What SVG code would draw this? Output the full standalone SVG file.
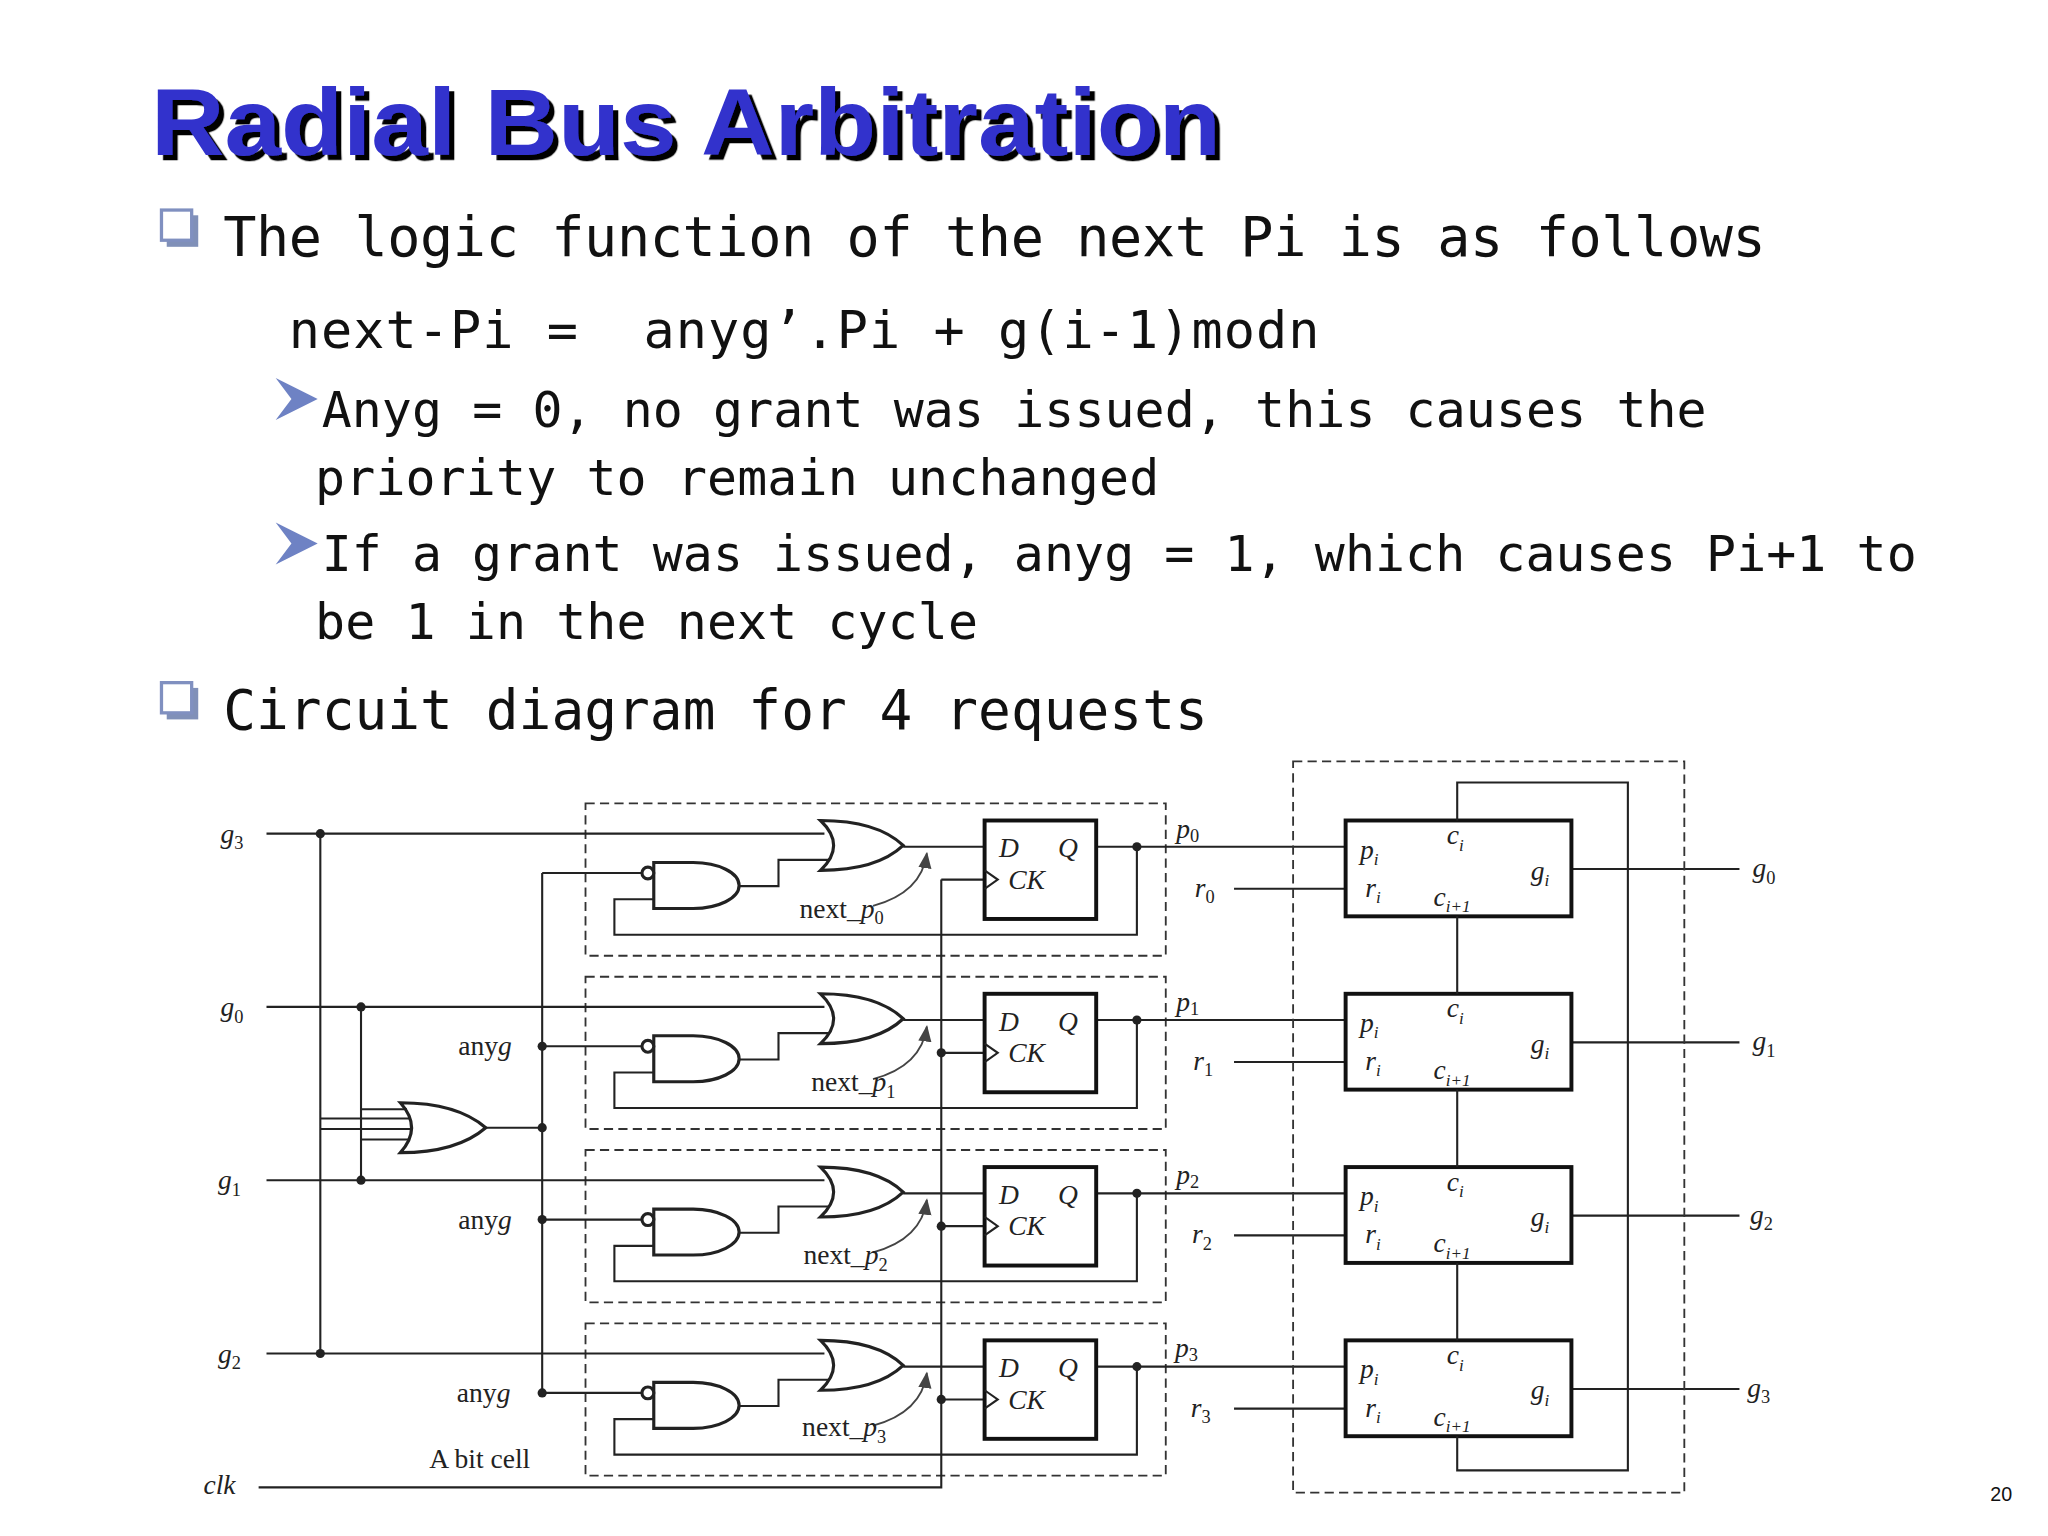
<svg xmlns="http://www.w3.org/2000/svg" xmlns:xlink="http://www.w3.org/1999/xlink" width="2048" height="1536" viewBox="0 0 2048 1536">
<style>
.w{fill:none;stroke:#222;stroke-width:1.6}
.g{fill:#fff;stroke:#222;stroke-width:2.4}
.bx{fill:#fff;stroke:#111;stroke-width:3}
.d{fill:none;stroke:#333;stroke-width:1.4;stroke-dasharray:7 4}
.t{font-family:"DejaVu Sans Mono",monospace;fill:#111}
.s{font-family:"Liberation Serif",serif;font-size:21px;fill:#222}
.i{font-style:italic}
.dot{fill:#222}
</style>
<defs>
<filter id="sh" x="-5%" y="-20%" width="110%" height="140%"><feDropShadow dx="4" dy="4" stdDeviation="0" flood-color="#000"/></filter>
<marker id="ah" viewBox="0 0 10 10" refX="9" refY="5" markerWidth="9" markerHeight="9" orient="auto"><path d="M0,1 L10,5 L0,9 Z" fill="#444"/></marker>
<g id="cell">
<rect class="d" x="446" y="612" width="442" height="116"/>
<path class="w" d="M413,665 H489 M563,675 H593 V655 H632 M498,685 H468 V712 H866 V645 M688,645 H750 M835,645 H1025 M717,670 H750 M940,677 H1025 M1197,662 H1325"/>
<path class="g" d="M625,625 Q645,644 625,663 Q668,663 688,644 Q668,625 625,625 Z"/>
<path class="g" d="M498,657 H528 A35,17.5 0 0 1 528,692 H498 Z"/>
<circle cx="493.5" cy="665" r="4.5" class="g" stroke-width="2"/>
<rect class="bx" x="750" y="625" width="85" height="75"/>
<path class="w" d="M750,663 L760,670 L750,677"/>
<circle class="dot" cx="866" cy="645" r="3.5"/>
<path d="M665,690 Q702,680 706,650" fill="none" stroke="#444" stroke-width="1.4" marker-end="url(#ah)"/>
<text class="s i" x="761" y="653">D</text><text class="s i" x="806" y="653">Q</text><text class="s i" x="768" y="677">CK</text>
<rect class="bx" x="1025" y="625" width="172" height="73"/>
<text class="s i" x="1102" y="643">c<tspan font-size="13" dy="5">i</tspan></text>
<text class="s i" x="1036" y="654">p<tspan font-size="13" dy="5">i</tspan></text>
<text class="s i" x="1166" y="670">g<tspan font-size="13" dy="5">i</tspan></text>
<text class="s i" x="1040" y="683">r<tspan font-size="13" dy="5">i</tspan></text>
<text class="s i" x="1092" y="690">c<tspan font-size="13" dy="5">i+1</tspan></text>
</g>
</defs>
<rect width="2048" height="1536" fill="#fff"/>
<g id="title">
<text x="115" y="118" transform="scale(1.3128)" filter="url(#sh)" font-family="Liberation Sans,Arial,sans-serif" font-weight="bold" font-size="72" fill="#3333cc" textLength="815" lengthAdjust="spacingAndGlyphs">Radial Bus Arbitration</text>
</g>
<g id="text" transform="scale(1.3128)">
<rect x="127" y="164" width="24" height="24" fill="#8090b8"/><rect x="123" y="160" width="23" height="23" fill="#fff" stroke="#8090c0" stroke-width="2.5"/>
<rect x="127" y="524" width="24" height="24" fill="#8090b8"/><rect x="123" y="520" width="23" height="23" fill="#fff" stroke="#8090c0" stroke-width="2.5"/>
<path d="M210,288 L242,304 L210,320 L222,304 Z" fill="#6e82c4"/>
<path d="M210,398 L242,414 L210,430 L222,414 Z" fill="#6e82c4"/>
<text class="t" x="170" y="195" font-size="42" textLength="1175">The logic function of the next Pi is as follows</text>
<text class="t" x="220" y="265" font-size="39.5" textLength="785" xml:space="preserve">next-Pi =  anyg’.Pi + g(i-1)modn</text>
<text class="t" x="245" y="325" font-size="38" textLength="1055">Anyg = 0, no grant was issued, this causes the</text>
<text class="t" x="240" y="377" font-size="38" textLength="643">priority to remain unchanged</text>
<text class="t" x="245" y="435" font-size="38" textLength="1215">If a grant was issued, anyg = 1, which causes Pi+1 to</text>
<text class="t" x="240" y="487" font-size="38" textLength="505">be 1 in the next cycle</text>
<text class="t" x="170" y="555" font-size="41.5" textLength="750">Circuit diagram for 4 requests</text>
<text x="1516" y="1143" font-family="Liberation Sans,Arial,sans-serif" font-size="15" fill="#111">20</text>
</g>
<g id="circuit" transform="scale(1.3128)">
<g id="bitcell0"><use xlink:href="#cell"/></g>
<g id="bitcell1"><use xlink:href="#cell" y="132"/></g>
<g id="bitcell2"><use xlink:href="#cell" y="264"/></g>
<g id="bitcell3"><use xlink:href="#cell" y="396"/></g>
<g id="anyg-or"><path class="g" d="M305,840 Q322,859 305,878 Q348,878 370,859 Q348,840 305,840 Z"/></g>
<g id="arbiter"><rect class="d" x="985" y="580" width="298" height="557"/></g>
<g id="connectors">
<path class="w" d="M203,635 H628 M203,767 H628 M203,899 H628 M203,1031 H628 M244,635 V1031 M275,767 V899 M275,845 H310 M244,852 H313 M244,860 H314 M275,868 H312 M370,859 H413 M413,665 V1061 M197,1133 H717 V670 M1110,698 V757 M1110,830 V889 M1110,962 V1021 M1110,625 V596 H1240 V1120 H1110 V1094"/>
<g class="dot"><circle cx="244" cy="635" r="3.5"/><circle cx="275" cy="767" r="3.5"/><circle cx="275" cy="899" r="3.5"/><circle cx="244" cy="1031" r="3.5"/><circle cx="413" cy="859" r="3.5"/><circle cx="413" cy="797" r="3.5"/><circle cx="413" cy="929" r="3.5"/><circle cx="413" cy="1061" r="3.5"/><circle cx="717" cy="802" r="3.5"/><circle cx="717" cy="934" r="3.5"/><circle cx="717" cy="1066" r="3.5"/></g>
</g>
<g id="labels">
<text class="s i" x="168" y="642">g<tspan font-size="14" font-style="normal" dy="5">3</tspan></text>
<text class="s i" x="168" y="774">g<tspan font-size="14" font-style="normal" dy="5">0</tspan></text>
<text class="s i" x="166" y="906">g<tspan font-size="14" font-style="normal" dy="5">1</tspan></text>
<text class="s i" x="166" y="1038">g<tspan font-size="14" font-style="normal" dy="5">2</tspan></text>
<text class="s i" x="155" y="1138">clk</text>
<text class="s" x="349" y="804">any<tspan font-style="italic">g</tspan></text>
<text class="s" x="349" y="936">any<tspan font-style="italic">g</tspan></text>
<text class="s" x="348" y="1068">any<tspan font-style="italic">g</tspan></text>
<text class="s" x="327" y="1118">A bit cell</text>
<text class="s" x="609" y="699">next_<tspan font-style="italic">p</tspan><tspan font-size="14" dy="5">0</tspan></text>
<text class="s" x="618" y="831">next_<tspan font-style="italic">p</tspan><tspan font-size="14" dy="5">1</tspan></text>
<text class="s" x="612" y="963">next_<tspan font-style="italic">p</tspan><tspan font-size="14" dy="5">2</tspan></text>
<text class="s" x="611" y="1094">next_<tspan font-style="italic">p</tspan><tspan font-size="14" dy="5">3</tspan></text>
<text class="s i" x="896" y="638">p<tspan font-size="14" font-style="normal" dy="3">0</tspan></text>
<text class="s i" x="896" y="770">p<tspan font-size="14" font-style="normal" dy="3">1</tspan></text>
<text class="s i" x="896" y="902">p<tspan font-size="14" font-style="normal" dy="3">2</tspan></text>
<text class="s i" x="895" y="1034">p<tspan font-size="14" font-style="normal" dy="3">3</tspan></text>
<text class="s i" x="910" y="683">r<tspan font-size="14" font-style="normal" dy="5">0</tspan></text>
<text class="s i" x="909" y="815">r<tspan font-size="14" font-style="normal" dy="5">1</tspan></text>
<text class="s i" x="908" y="947">r<tspan font-size="14" font-style="normal" dy="5">2</tspan></text>
<text class="s i" x="907" y="1079">r<tspan font-size="14" font-style="normal" dy="5">3</tspan></text>
<text class="s i" x="1335" y="668">g<tspan font-size="14" font-style="normal" dy="5">0</tspan></text>
<text class="s i" x="1335" y="800">g<tspan font-size="14" font-style="normal" dy="5">1</tspan></text>
<text class="s i" x="1333" y="932">g<tspan font-size="14" font-style="normal" dy="5">2</tspan></text>
<text class="s i" x="1331" y="1064">g<tspan font-size="14" font-style="normal" dy="5">3</tspan></text>
</g>
</g>
</svg>
